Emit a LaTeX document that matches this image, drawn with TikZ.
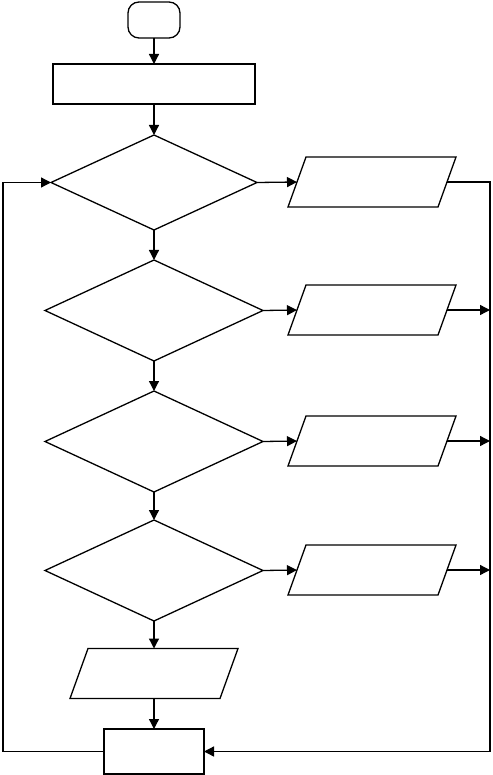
\documentclass[tikz,border=0pt]{standalone}
\usetikzlibrary{shapes.geometric,arrows.meta}
\begin{document}
\begin{tikzpicture}[x=1pt,y=-1pt,
  every node/.style={draw,line width=1.3pt,inner sep=0pt,outer sep=0pt},
  term/.style={rectangle,rounded corners=11pt,minimum width=52pt,minimum height=36pt},
  proc/.style={rectangle,minimum width=#1,minimum height=40pt},
  dec/.style={diamond,minimum width=#1,minimum height=101pt},
  io/.style={rectangle,draw=none,minimum width=150pt,minimum height=50pt},
  arr/.style={line width=1.3pt,-{Triangle[length=10pt,width=10pt]}},
  ln/.style={line width=1.3pt,line join=miter}]
\useasboundingbox (0,0) rectangle (492,775);
\node[term] (s) at (154,20) {};
\node[proc=202pt] (a) at (154,84) {};
\node[dec=206pt,minimum height=95pt] (d1) at (154,182.5) {};
\node[io] (p1) at (372,182) {};
\node[dec=218pt] (d2) at (154,310.5) {};
\node[io] (p2) at (372,310) {};
\node[dec=218pt] (d3) at (154,441.5) {};
\node[io] (p3) at (372,441) {};
\node[dec=218pt] (d4) at (154,570.5) {};
\node[io] (p4) at (372,570) {};
\node[io] (p5) at (154,673.5) {};
\node[proc=100pt,minimum height=45pt] (b) at (154,751.5) {};
\foreach \p in {p1,p2,p3,p4,p5}
  \draw[ln] ([xshift=9pt]\p.north west) -- ([xshift=9pt]\p.north east)
    -- ([xshift=-9pt]\p.south east) -- ([xshift=-9pt]\p.south west) -- cycle;
\coordinate (rb) at (490,751.5);
\coordinate (lb) at (3,751.5);
\draw[arr] (s) -- (a);
\draw[arr] (a) -- (d1);
\draw[arr] (d1) -- (d2);
\draw[arr] (d2) -- (d3);
\draw[arr] (d3) -- (d4);
\draw[arr] (d4) -- (p5);
\draw[arr] (p5) -- (b);
\draw[arr] (d1.east) -- (p1.west);
\draw[arr] (d2.east) -- (p2.west);
\draw[arr] (d3.east) -- (p3.west);
\draw[arr] (d4.east) -- (p4.west);
\draw[arr] (p1.east) -| (rb) -- (b.east);
\draw[arr] (p2.east) -- (p2.east -| rb);
\draw[arr] (p3.east) -- (p3.east -| rb);
\draw[arr] (p4.east) -- (p4.east -| rb);
\draw[arr] (b.west) -- (lb) |- (d1.west);
\end{tikzpicture}
\end{document}
